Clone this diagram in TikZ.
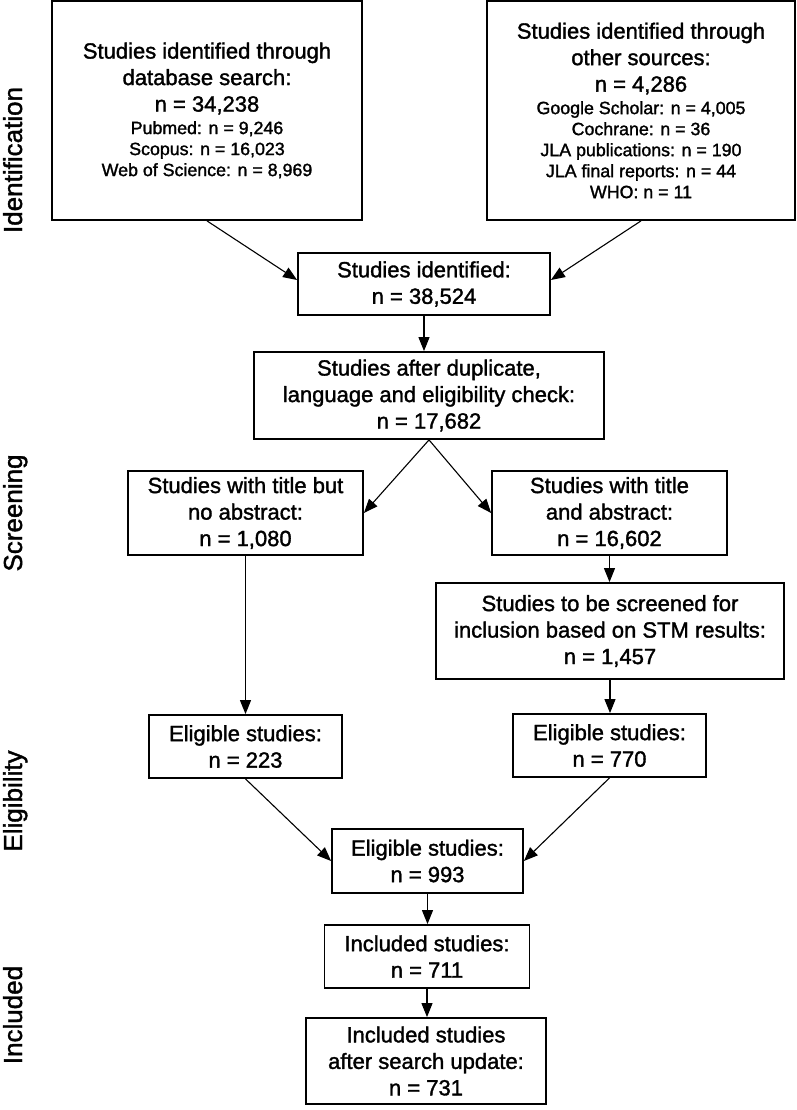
\documentclass[tikz,border=0pt]{standalone}
\usepackage{fontspec}
\setmainfont{Liberation Sans}[FakeBold=1.5]
\usetikzlibrary{arrows.meta}
\newcommand\subtxt{\fontsize{17.8}{21}\selectfont}
\begin{document}
\begin{tikzpicture}[x=1pt,y=1pt,
  box/.style={draw=black, line width=1.8pt, inner sep=0pt, align=center,
    font=\fontsize{22}{26.5}\selectfont, text=black},
  arr/.style={draw=black, line width=1.1pt, -{Triangle[length=14pt,width=11pt]}},
  phase/.style={rotate=90, anchor=base, inner sep=0pt, font=\fontsize{26}{30}\selectfont}]
\useasboundingbox (0,0) rectangle (797,-1110);

% identification
\node[box, minimum width=310pt, minimum height=219pt] (A) at (207,-110.5)
  {Studies identified through\\database search:\\n = 34,238\\[-4pt]
   {\subtxt Pubmed: n = 9,246}\\[-5.5pt]{\subtxt Scopus: n = 16,023}\\[-5.5pt]
   {\subtxt Web of Science: n = 8,969}};
\node[box, minimum width=308pt, minimum height=219pt] (B) at (641,-110.5)
  {Studies identified through\\other sources:\\n = 4,286\\[-4pt]
   {\subtxt Google Scholar: n = 4,005}\\[-5.5pt]{\subtxt Cochrane: n = 36}\\[-5.5pt]
   {\subtxt JLA publications: n = 190}\\[-5.5pt]{\subtxt JLA final reports: n = 44}\\[-5.5pt]
   {\subtxt WHO: n = 11}};
\node[box, minimum width=252pt, minimum height=62pt] (C) at (424,-284)
  {Studies identified:\\n = 38,524};

% screening
\node[box, minimum width=350pt, minimum height=87pt] (D) at (429,-395.5)
  {Studies after duplicate,\\language and eligibility check:\\n = 17,682};
\node[box, minimum width=235pt, minimum height=84pt] (E) at (245.5,-513)
  {Studies with title but\\no abstract:\\n = 1,080};
\node[box, minimum width=235pt, minimum height=84pt] (F) at (609.5,-513)
  {Studies with title\\and abstract:\\n = 16,602};
\node[box, minimum width=348pt, minimum height=96pt] (G) at (610,-631)
  {Studies to be screened for\\inclusion based on STM results:\\n = 1,457};

% eligibility
\node[box, minimum width=193pt, minimum height=63pt] (H) at (245.5,-746.5)
  {Eligible studies:\\n = 223};
\node[box, minimum width=193pt, minimum height=63pt] (I) at (609.5,-745.5)
  {Eligible studies:\\n = 770};
\node[box, minimum width=191pt, minimum height=64pt] (J) at (427.5,-861)
  {Eligible studies:\\n = 993};

% included
\node[box, minimum width=205pt, minimum height=63pt] (K) at (427,-956.5)
  {Included studies:\\n = 711};
\node[box, minimum width=240pt, minimum height=86pt] (L) at (426,-1061)
  {Included studies\\after search update:\\n = 731};

% phase labels
\node[phase] (p1) at (22,-160) {Identification};
\node[phase] (p2) at (22,-513) {Screening};
\node[phase] (p3) at (22,-801) {Eligibility};
\node[phase] (p4) at (22,-1015) {Included};

% connectors
\draw[arr] (A.south) -- ([yshift=4pt]C.west);
\draw[arr] (B.south) -- ([yshift=4pt]C.east);
\draw[arr] (C.south) -- (C.south |- D.north);
\draw[arr] (D.south) -- (E.east);
\draw[arr] (D.south) -- (F.west);
\draw[arr] (F.south) -- (F.south |- G.north);
\draw[arr] (E.south) -- (E.south |- H.north);
\draw[arr] (G.south) -- (G.south |- I.north);
\draw[arr] (H.south) -- (J.west);
\draw[arr] (I.south) -- (J.east);
\draw[arr] (J.south) -- (J.south |- K.north);
\draw[arr] (K.south) -- (K.south |- L.north);
\end{tikzpicture}
\end{document}
